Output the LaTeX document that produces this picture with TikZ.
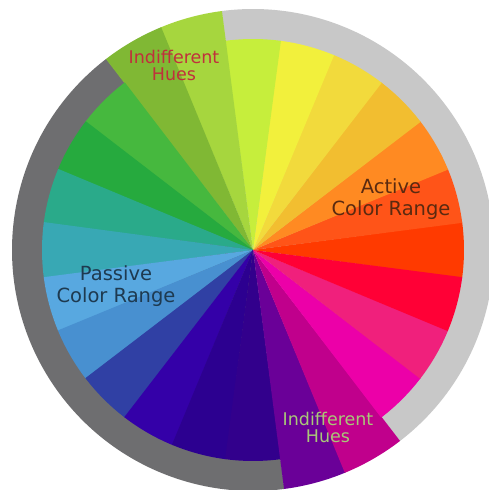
\documentclass[tikz,border=0pt]{standalone}
\usepackage{fontspec}
\setmainfont{DejaVu Sans}
\definecolor{ringdark}{HTML}{6E6E70}
\definecolor{ringlight}{HTML}{C8C8C8}
\definecolor{txtred}{HTML}{C0303C}
\definecolor{txtbrown}{HTML}{5A2A10}
\definecolor{txtnavy}{HTML}{1E3A50}
\definecolor{txtpale}{HTML}{A8C878}
\tikzset{
  lbl/.style={align=center, inner sep=0pt},
  lblsmall/.style={lbl, font=\fontsize{17.5}{16.5}\selectfont},
  lblbig/.style={lbl, font=\fontsize{19.5}{22}\selectfont}
}
\begin{document}
\begin{tikzpicture}[x=1pt,y=1pt]
\useasboundingbox (0,0) rectangle (489,490);
\fill[white] (0,0) rectangle (489,490);
\clip (0,0) rectangle (489,490);
\coordinate (C) at (253,240);
\begin{scope}[shift={(253,240)}]
  % outer ring sectors
  \fill[ringdark] (0,0) -- (127.5:241) arc[start angle=127.5, end angle=277.5, radius=241] -- cycle;
  \fill[ringlight] (0,0) -- (-52.5:241) arc[start angle=-52.5, end angle=97.5, radius=241] -- cycle;
  % colour segments
  \foreach \a/\r/\c in {
     0/211/FF3A00, 15/211/FF5418, 30/211/FF8A22, 45/211/F2BE30,
    60/211/F2DA3C, 75/211/F2F03C, 90/211/C6EE3C, 105/241/A6D63E,
   120/241/80B834, 135/211/46B83E, 150/211/26AA3E, 165/211/2AAA8A,
   180/211/38A8B4, 195/211/58A8E0, 210/211/4890D0, 225/211/3040A4,
   240/211/3400A8, 255/211/2C0090, 270/211/32008C, 285/241/6A0098,
   300/241/C0008C, 315/211/EC00A8, 330/211/F0207C, 345/211/FF0036} {
    \definecolor{seg}{HTML}{\c}
    \fill[seg] (0,0) -- (\a-7.6:\r) arc[start angle=\a-7.6, end angle=\a+7.6, radius=\r] -- cycle;
  }
\end{scope}
% labels
\node[lblsmall, text=txtred] (topHues) at (174,424.5) {Indifferent\\Hues};
\node[lblbig, text=txtbrown] (active) at (391,291) {Active\\Color Range};
\node[lblbig, text=txtnavy] (passive) at (116,204) {Passive\\Color Range};
\node[lblsmall, text=txtpale] (botHues) at (328,62.5) {Indifferent\\Hues};
\end{tikzpicture}
\end{document}
